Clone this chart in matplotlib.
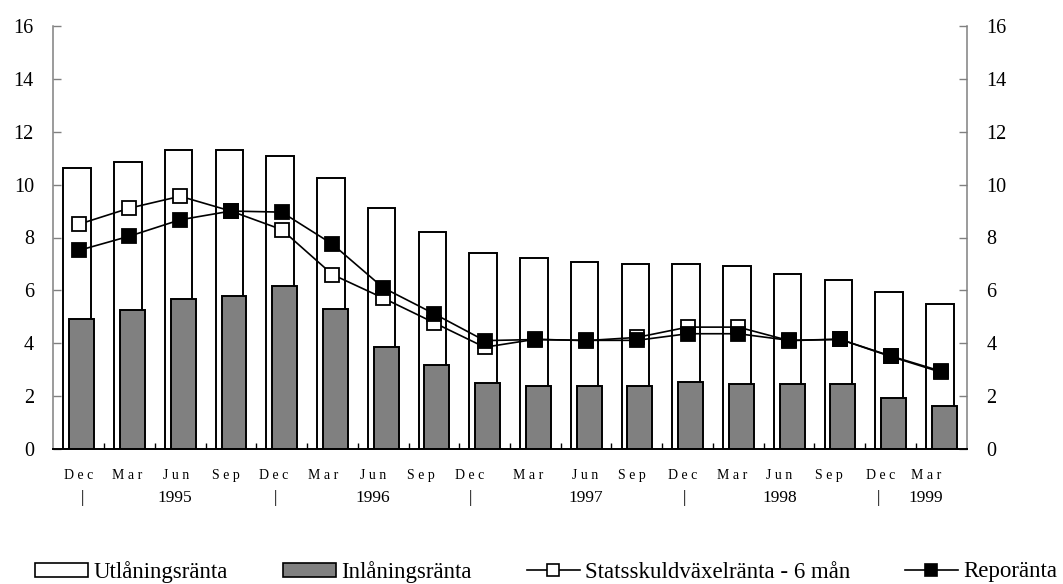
import matplotlib
matplotlib.use("Agg")
import matplotlib.pyplot as plt
from matplotlib.patches import Patch
from matplotlib.lines import Line2D
import numpy as np

plt.rcParams['font.family'] = ['Liberation Serif', 'DejaVu Serif']

# ---------------- data ----------------
months = ["Dec", "Mar", "Jun", "Sep", "Dec", "Mar", "Jun", "Sep", "Dec",
          "Mar", "Jun", "Sep", "Dec", "Mar", "Jun", "Sep", "Dec", "Mar"]
utlaning = [10.62, 10.87, 11.31, 11.31, 11.09, 10.26, 9.13, 8.22, 7.40,
            7.24, 7.08, 7.00, 7.00, 6.92, 6.63, 6.39, 5.94, 5.48]
inlaning = [4.93, 5.25, 5.69, 5.77, 6.17, 5.31, 3.85, 3.18, 2.50,
            2.38, 2.38, 2.38, 2.54, 2.45, 2.45, 2.45, 1.94, 1.62]
statsskuld = [8.50, 9.11, 9.56, 9.00, 8.30, 6.60, 5.71, 4.78, 3.85,
              4.15, 4.10, 4.22, 4.61, 4.61, 4.10, 4.15, 3.50, 2.90]
repo = [7.51, 8.05, 8.67, 9.00, 8.96, 7.75, 6.10, 5.12, 4.10,
        4.14, 4.11, 4.11, 4.36, 4.36, 4.11, 4.15, 3.52, 2.94]
year_labels = ["|", "1995", "|", "1996", "|", "1997", "|", "1998", "|", "1999"]
yticks = [0, 2, 4, 6, 8, 10, 12, 14, 16]
legend_labels = ["Utlåningsränta", "Inlåningsränta",
                 "Statsskuldväxelränta - 6 mån", "Reporänta"]

# ---------------- layout (label placement in category units) ----------------
month_pos = [0.0, 0.96, 1.92, 2.9, 3.85, 4.82, 5.8, 6.75, 7.7, 8.85,
             9.98, 10.91, 11.91, 12.88, 13.8, 14.78, 15.8, 16.71]
year_pos = [0.08, 1.90, 3.87, 5.79, 7.72, 9.99, 11.94, 13.81, 15.77, 16.70]

GREY = "#808080"
W, H = 1063, 584
fig = plt.figure(figsize=(W / 100, H / 100), dpi=100)
x0, x1 = 53.3, 966.7
yb, yt = 449, 26
ax = fig.add_axes([x0 / W, (H - yb) / H, (x1 - x0) / W, (yb - yt) / H])

x = np.arange(len(months))
ax.bar(x - 0.03, utlaning, width=0.54, color="white", edgecolor="black",
       linewidth=1.4, zorder=2)
ax.bar(x + 0.06, inlaning, width=0.49, color=GREY, edgecolor="black",
       linewidth=1.4, zorder=3)
ax.plot(x, statsskuld, color="black", lw=1.2, marker="s", ms=9.5,
        mfc="white", mec="black", mew=1.3, zorder=4)
ax.plot(x, repo, color="black", lw=1.2, marker="s", ms=9.5,
        mfc="black", mec="black", mew=1.3, zorder=5)

ax.set_xlim(-0.5, len(months) - 0.5)
ax.set_ylim(0, 16)

# y axes (left and right)
ax.set_yticks(yticks)
ax.set_yticklabels([str(v) for v in yticks])
ax.tick_params(axis="y", direction="in", length=6, width=1, color=GREY,
               labelsize=14.5, pad=14, left=True, right=True,
               labelleft=True, labelright=True)
for s in ("left", "right"):
    ax.spines[s].set_color(GREY)
    ax.spines[s].set_linewidth(1.1)
ax.spines["top"].set_visible(False)
ax.spines["bottom"].set_color("black")
ax.spines["bottom"].set_linewidth(1.4)

# x axis: minor ticks at category boundaries, labels as text
ax.set_xticks([])
ax.set_xticks(np.arange(0.5, len(months) - 0.5, 1.0), minor=True)
ax.tick_params(axis="x", which="minor", direction="in", length=4,
               width=1, color="black")
trans = ax.get_xaxis_transform()
for p, m in zip(month_pos, months):
    ax.text(p, -0.0615, " ".join(m), transform=trans, ha="center",
            va="center", fontsize=10)
for p, t in zip(year_pos, year_labels):
    ax.text(p, -0.1158, t, transform=trans, ha="center", va="center",
            fontsize=12.5 if t != "|" else 12)

# legend
handles = [
    Patch(facecolor="white", edgecolor="black", linewidth=1.2),
    Patch(facecolor=GREY, edgecolor="black", linewidth=1.2),
    Line2D([], [], color="black", lw=1.2, marker="s", ms=8, mfc="white",
           mec="black", mew=1.2),
    Line2D([], [], color="black", lw=1.2, marker="s", ms=8, mfc="black",
           mec="black", mew=1.2),
]
leg_x = [35, 283, 527, 905]
for hnd, lab, lx in zip(handles, legend_labels, leg_x):
    fig.legend(handles=[hnd], labels=[lab], loc="center left",
               bbox_to_anchor=(lx / W, 12 / H), frameon=False,
               fontsize=16.5, handlelength=2.3, handleheight=0.55,
               handletextpad=0.25, borderpad=0, borderaxespad=0)

fig.savefig("out.png", dpi=100)
